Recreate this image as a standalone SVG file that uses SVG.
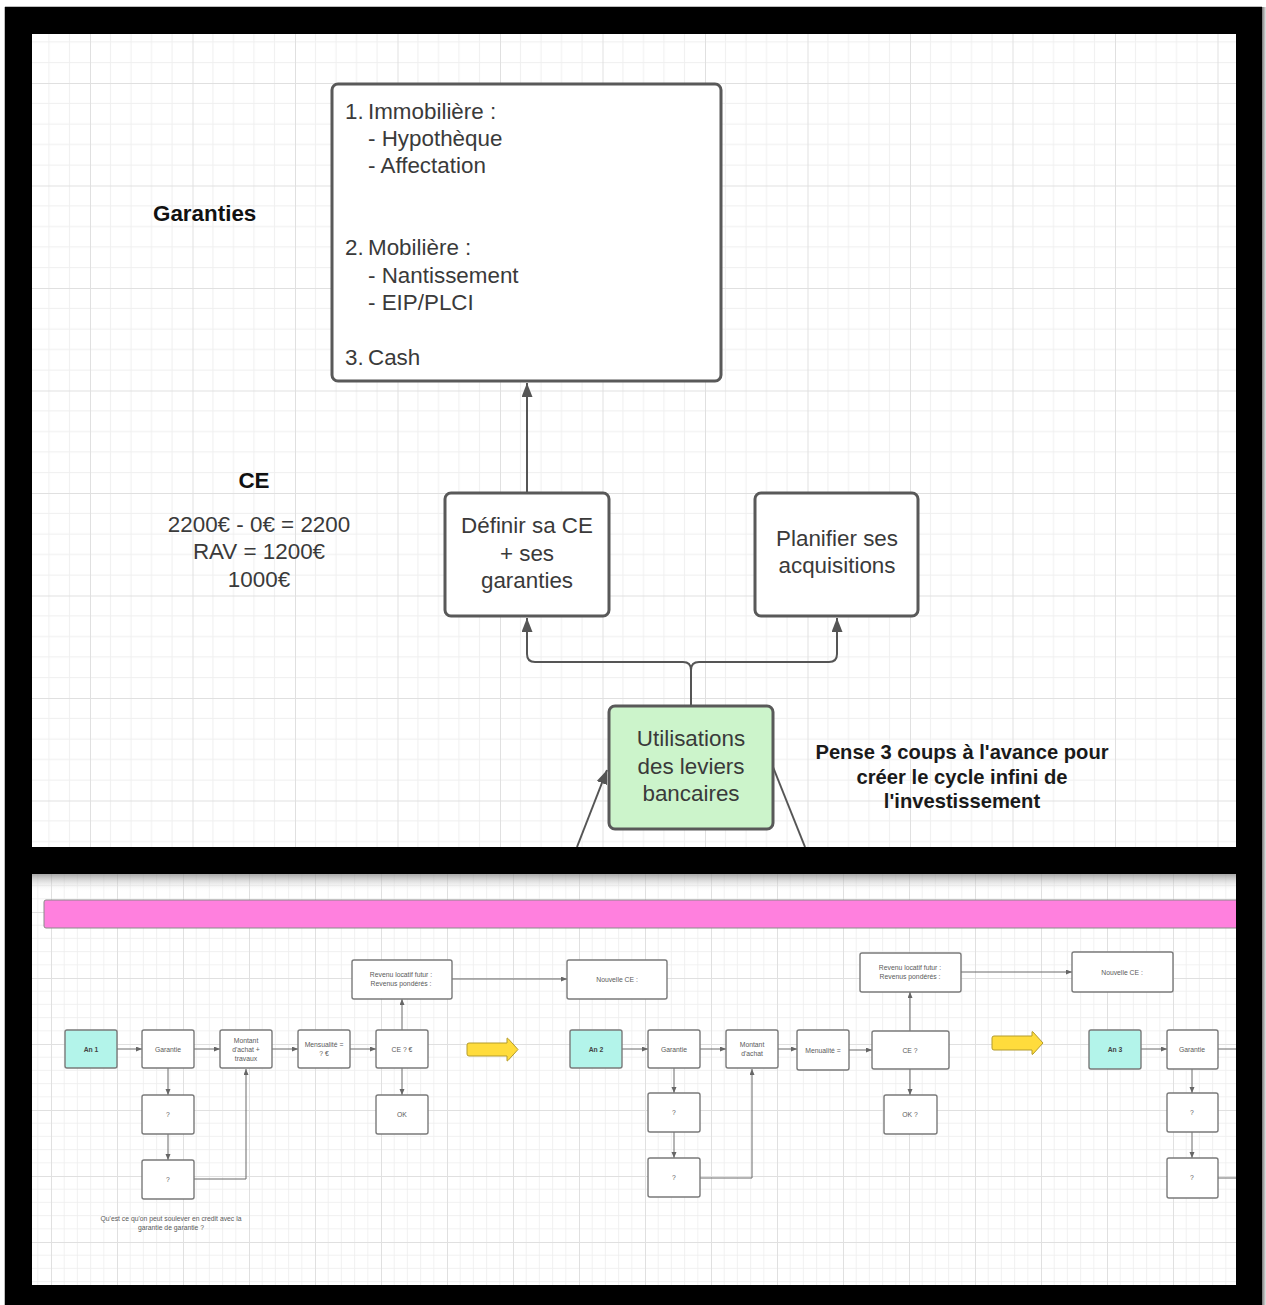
<svg xmlns="http://www.w3.org/2000/svg" width="1266" height="1305" viewBox="0 0 1266 1305">
  <defs>
    <!-- canvas grid, upper board: 20.5px cells, heavier line every 5 cells -->
    <pattern id="gridTop" patternUnits="userSpaceOnUse" x="-12.5" y="-19.5" width="102.5" height="102.5">
      <path d="M20.5 0V102.5M41 0V102.5M61.5 0V102.5M82 0V102.5M0 20.5H102.5M0 41H102.5M0 61.5H102.5M0 82H102.5" stroke="#efefef" stroke-width="1" fill="none"/>
      <path d="M0.5 0V102.5M0 0.5H102.5" stroke="#e0e0e0" stroke-width="1" fill="none"/>
    </pattern>
    <!-- canvas grid, lower board: 13.2px cells, heavier line every 5 cells -->
    <pattern id="gridBottom" patternUnits="userSpaceOnUse" x="51" y="54" width="66" height="66">
      <path d="M13.2 0V66M26.4 0V66M39.6 0V66M52.8 0V66M0 13.2H66M0 26.4H66M0 39.6H66M0 52.8H66" stroke="#eeeeee" stroke-width="0.8" fill="none"/>
      <path d="M0.5 0V66M0 0.5H66" stroke="#e0e0e0" stroke-width="1" fill="none"/>
    </pattern>
    <linearGradient id="shadeDown" x1="0" y1="0" x2="0" y2="1">
      <stop offset="0" stop-color="#8a8a8a" stop-opacity="0.75"/>
      <stop offset="1" stop-color="#ffffff" stop-opacity="0"/>
    </linearGradient>
    <linearGradient id="shadeRight" x1="0" y1="0" x2="1" y2="0">
      <stop offset="0" stop-color="#777777"/>
      <stop offset="1" stop-color="#e6e6e6"/>
    </linearGradient>
    <marker id="arrowBig" markerUnits="userSpaceOnUse" markerWidth="16" markerHeight="12" refX="14" refY="5.5" orient="auto">
      <path d="M0 0L14 5.5L0 11z" fill="#555555"/>
    </marker>
    <marker id="arrowSmall" markerUnits="userSpaceOnUse" markerWidth="8" markerHeight="6" refX="6" refY="2.5" orient="auto">
      <path d="M0 0L6 2.5L0 5z" fill="#666666"/>
    </marker>
    <style>
      .box { fill: #ffffff; stroke: #595959; stroke-width: 3; }
      .green { fill: #ccf4cb; }
      .big { font-family: "Liberation Sans", Arial, sans-serif; font-size: 22.4px; fill: #3a3a3a; }
      .mid { text-anchor: middle; }
      .bold { font-weight: bold; fill: #111111; }
      .note { font-family: "Liberation Sans", Arial, sans-serif; font-size: 20.2px; font-weight: bold; fill: #1a1a1a; text-anchor: middle; }
      .link { fill: none; stroke: #555555; stroke-width: 2; }
      .sbox { fill: #ffffff; stroke: #7a7a7a; stroke-width: 1.4; }
      .year { fill: #b3f4ea; }
      .small { font-family: "Liberation Sans", Arial, sans-serif; font-size: 6.8px; fill: #5a5a5a; text-anchor: middle; }
      .sbold { font-weight: bold; fill: #444444; }
      .slink { fill: none; stroke: #6a6a6a; stroke-width: 1; }
      .hint { fill: #ffdc3c; stroke: #b39b2c; stroke-width: 1; }
    </style>
  </defs>

  <!-- page -->
  <rect x="0" y="0" width="1266" height="1305" fill="#ffffff"/>

  <!-- upper board -->
  <rect x="32" y="34" width="1204" height="813" fill="#ffffff"/>
  <rect x="32" y="34" width="1204" height="813" fill="url(#gridTop)"/>

  <!-- lower board -->
  <rect x="32" y="874" width="1204" height="411" fill="#ffffff"/>
  <rect x="32" y="874" width="1204" height="411" fill="url(#gridBottom)"/>
  <rect x="32" y="874" width="1204" height="18" fill="url(#shadeDown)"/>

  <!-- ===== upper board: bank leverage map ===== -->
  <g id="connectors-top">
    <path class="link" d="M527 493V383" marker-end="url(#arrowBig)"/>
    <path class="link" d="M691 706V670Q691 662 683 662H535Q527 662 527 654V618" marker-end="url(#arrowBig)"/>
    <path class="link" d="M691 670Q691 662 699 662H829Q837 662 837 654V618" marker-end="url(#arrowBig)"/>
    <path class="link" d="M577 847L607 770" marker-end="url(#arrowBig)"/>
    <path class="link" d="M773 767L805 847"/>
  </g>

  <g id="garanties-list">
    <rect class="box" x="332" y="84" width="389" height="297" rx="6"/>
    <text class="big">
      <tspan x="345" y="119">1.</tspan><tspan x="368" y="119">Immobilière :</tspan>
      <tspan x="368" y="146">- Hypothèque</tspan>
      <tspan x="368" y="173">- Affectation</tspan>
      <tspan x="345" y="255">2.</tspan><tspan x="368" y="255">Mobilière :</tspan>
      <tspan x="368" y="283">- Nantissement</tspan>
      <tspan x="368" y="310">- EIP/PLCI</tspan>
      <tspan x="345" y="365">3.</tspan><tspan x="368" y="365">Cash</tspan>
    </text>
  </g>

  <g id="label-garanties">
    <text class="big bold" x="153" y="221">Garanties</text>
  </g>

  <g id="label-ce">
    <text class="big bold mid" x="254" y="488">CE</text>
    <text class="big mid" x="259" y="532" fill="#222222">2200€ - 0€ = 2200</text>
    <text class="big mid" x="259" y="559" fill="#222222">RAV = 1200€</text>
    <text class="big mid" x="259" y="587" fill="#222222">1000€</text>
  </g>

  <g id="definir-ce">
    <rect class="box" x="445" y="493" width="164" height="123" rx="6"/>
    <text class="big mid" x="527" y="533">Définir sa CE</text>
    <text class="big mid" x="527" y="561">+ ses</text>
    <text class="big mid" x="527" y="588">garanties</text>
  </g>

  <g id="planifier">
    <rect class="box" x="755" y="493" width="163" height="123" rx="6"/>
    <text class="big mid" x="837" y="546">Planifier ses</text>
    <text class="big mid" x="837" y="573">acquisitions</text>
  </g>

  <g id="leviers">
    <rect class="box green" x="609" y="706" width="164" height="123" rx="6"/>
    <text class="big mid" x="691" y="746">Utilisations</text>
    <text class="big mid" x="691" y="774">des leviers</text>
    <text class="big mid" x="691" y="801">bancaires</text>
  </g>

  <g id="note-cycle">
    <text class="note" x="962" y="759">Pense 3 coups à l'avance pour</text>
    <text class="note" x="962" y="784">créer le cycle infini de</text>
    <text class="note" x="962" y="808">l'investissement</text>
  </g>

  <!-- ===== lower board: year-by-year timeline ===== -->
  <g id="timeline-band">
    <rect x="44" y="900" width="1210" height="28" rx="2" fill="#ff80de" stroke="#8a8a8a" stroke-width="1"/>
  </g>

  <g id="connectors-bottom">
    <!-- year 1 -->
    <path class="slink" d="M117 1049H142" marker-end="url(#arrowSmall)"/>
    <path class="slink" d="M194 1049H220" marker-end="url(#arrowSmall)"/>
    <path class="slink" d="M272 1049H298" marker-end="url(#arrowSmall)"/>
    <path class="slink" d="M350 1049H376" marker-end="url(#arrowSmall)"/>
    <path class="slink" d="M168 1068V1095" marker-end="url(#arrowSmall)"/>
    <path class="slink" d="M168 1134V1160" marker-end="url(#arrowSmall)"/>
    <path class="slink" d="M194 1179H246V1069" marker-end="url(#arrowSmall)"/>
    <path class="slink" d="M402 1030V999" marker-end="url(#arrowSmall)"/>
    <path class="slink" d="M402 1068V1095" marker-end="url(#arrowSmall)"/>
    <path class="slink" d="M452 979H567" marker-end="url(#arrowSmall)"/>
    <!-- year 2 -->
    <path class="slink" d="M622 1049H648" marker-end="url(#arrowSmall)"/>
    <path class="slink" d="M700 1049H726" marker-end="url(#arrowSmall)"/>
    <path class="slink" d="M778 1049H797" marker-end="url(#arrowSmall)"/>
    <path class="slink" d="M849 1050H872" marker-end="url(#arrowSmall)"/>
    <path class="slink" d="M674 1068V1093" marker-end="url(#arrowSmall)"/>
    <path class="slink" d="M674 1132V1158" marker-end="url(#arrowSmall)"/>
    <path class="slink" d="M700 1178H752V1069" marker-end="url(#arrowSmall)"/>
    <path class="slink" d="M910 1031V992" marker-end="url(#arrowSmall)"/>
    <path class="slink" d="M910 1069V1095" marker-end="url(#arrowSmall)"/>
    <path class="slink" d="M961 972H1072" marker-end="url(#arrowSmall)"/>
    <!-- year 3 -->
    <path class="slink" d="M1141 1049H1167" marker-end="url(#arrowSmall)"/>
    <path class="slink" d="M1192 1069V1093" marker-end="url(#arrowSmall)"/>
    <path class="slink" d="M1192 1132V1158" marker-end="url(#arrowSmall)"/>
    <path class="slink" d="M1218 1049H1250"/>
    <path class="slink" d="M1218 1178H1250"/>
  </g>

  <!-- year 1 -->
  <g id="an1">
    <rect class="sbox year" x="65" y="1030" width="52" height="38" rx="2"/>
    <text class="small sbold" x="91" y="1051.5">An 1</text>
  </g>
  <g id="garantie1">
    <rect class="sbox" x="142" y="1030" width="52" height="38" rx="2"/>
    <text class="small" x="168" y="1051.5">Garantie</text>
  </g>
  <g id="montant1">
    <rect class="sbox" x="220" y="1030" width="52" height="38" rx="2"/>
    <text class="small" x="246" y="1042.5">Montant</text>
    <text class="small" x="246" y="1051.5">d'achat +</text>
    <text class="small" x="246" y="1060.5">travaux</text>
  </g>
  <g id="mensualite1">
    <rect class="sbox" x="298" y="1030" width="52" height="38" rx="2"/>
    <text class="small" x="324" y="1046.5">Mensualité =</text>
    <text class="small" x="324" y="1055.5">? €</text>
  </g>
  <g id="ce1">
    <rect class="sbox" x="376" y="1030" width="52" height="38" rx="2"/>
    <text class="small" x="402" y="1051.5">CE ? €</text>
  </g>
  <g id="question1a">
    <rect class="sbox" x="142" y="1095" width="52" height="39" rx="2"/>
    <text class="small" x="168" y="1116.5">?</text>
  </g>
  <g id="question1b">
    <rect class="sbox" x="142" y="1160" width="52" height="39" rx="2"/>
    <text class="small" x="168" y="1181.5">?</text>
  </g>
  <g id="ok1">
    <rect class="sbox" x="376" y="1095" width="52" height="39" rx="2"/>
    <text class="small" x="402" y="1116.5">OK</text>
  </g>
  <g id="revenu1">
    <rect class="sbox" x="352" y="960" width="100" height="39" rx="2"/>
    <text class="small" x="401" y="976.5">Revenu locatif futur :</text>
    <text class="small" x="401" y="985.5">Revenus pondérés :</text>
  </g>
  <g id="nouvelle-ce1">
    <rect class="sbox" x="567" y="960" width="100" height="39" rx="2"/>
    <text class="small" x="617" y="981.5">Nouvelle CE :</text>
  </g>
  <g id="question-note">
    <text class="small" x="171" y="1220.5" fill="#444444">Qu'est ce qu'on peut soulever en credit avec la</text>
    <text class="small" x="171" y="1229.5" fill="#444444">garantie de garantie ?</text>
  </g>
  <g id="next-year1">
    <path class="hint" d="M469 1043H507V1038.5Q507 1037.5 508 1038.5L518 1049.5L508 1060.5Q507 1061.5 507 1060.5V1056H469Q467 1056 467 1054V1045Q467 1043 469 1043Z"/>
  </g>

  <!-- year 2 -->
  <g id="an2">
    <rect class="sbox year" x="570" y="1030" width="52" height="38" rx="2"/>
    <text class="small sbold" x="596" y="1051.5">An 2</text>
  </g>
  <g id="garantie2">
    <rect class="sbox" x="648" y="1030" width="52" height="38" rx="2"/>
    <text class="small" x="674" y="1051.5">Garantie</text>
  </g>
  <g id="montant2">
    <rect class="sbox" x="726" y="1030" width="52" height="38" rx="2"/>
    <text class="small" x="752" y="1046.5">Montant</text>
    <text class="small" x="752" y="1055.5">d'achat</text>
  </g>
  <g id="mensualite2">
    <rect class="sbox" x="797" y="1030" width="52" height="40" rx="2"/>
    <text class="small" x="823" y="1052.5">Menualité =</text>
  </g>
  <g id="ce2">
    <rect class="sbox" x="872" y="1031" width="77" height="38" rx="2"/>
    <text class="small" x="910" y="1052.5">CE ?</text>
  </g>
  <g id="question2a">
    <rect class="sbox" x="648" y="1093" width="52" height="39" rx="2"/>
    <text class="small" x="674" y="1114.5">?</text>
  </g>
  <g id="question2b">
    <rect class="sbox" x="648" y="1158" width="52" height="39" rx="2"/>
    <text class="small" x="674" y="1179.5">?</text>
  </g>
  <g id="ok2">
    <rect class="sbox" x="884" y="1095" width="53" height="39" rx="2"/>
    <text class="small" x="910" y="1116.5">OK ?</text>
  </g>
  <g id="revenu2">
    <rect class="sbox" x="860" y="953" width="101" height="39" rx="2"/>
    <text class="small" x="910" y="969.5">Revenu locatif futur :</text>
    <text class="small" x="910" y="978.5">Revenus pondérés :</text>
  </g>
  <g id="nouvelle-ce2">
    <rect class="sbox" x="1072" y="952" width="101" height="40" rx="2"/>
    <text class="small" x="1122" y="974.5">Nouvelle CE :</text>
  </g>
  <g id="next-year2">
    <path class="hint" d="M994 1036H1032V1032Q1032 1031 1033 1032L1043 1043L1033 1054Q1032 1055 1032 1054V1050H994Q992 1050 992 1048V1038Q992 1036 994 1036Z"/>
  </g>

  <!-- year 3 -->
  <g id="an3">
    <rect class="sbox year" x="1089" y="1030" width="52" height="39" rx="2"/>
    <text class="small sbold" x="1115" y="1051.5">An 3</text>
  </g>
  <g id="garantie3">
    <rect class="sbox" x="1167" y="1030" width="51" height="39" rx="2"/>
    <text class="small" x="1192" y="1051.5">Garantie</text>
  </g>
  <g id="question3a">
    <rect class="sbox" x="1167" y="1093" width="51" height="39" rx="2"/>
    <text class="small" x="1192" y="1114.5">?</text>
  </g>
  <g id="question3b">
    <rect class="sbox" x="1167" y="1158" width="51" height="40" rx="2"/>
    <text class="small" x="1192" y="1179.5">?</text>
  </g>

  <!-- black passe-partout around both boards -->
  <path d="M5 7H1262V1305H5Z M32 34V847H1236V34Z M32 874V1285H1236V874Z" fill="#000000" fill-rule="evenodd"/>
  <rect x="4" y="7" width="1" height="1298" fill="#bdbdbd"/>
  <rect x="5" y="6" width="1257" height="1" fill="#bdbdbd"/>
  <rect x="1262" y="7" width="4" height="1298" fill="url(#shadeRight)"/>
</svg>
